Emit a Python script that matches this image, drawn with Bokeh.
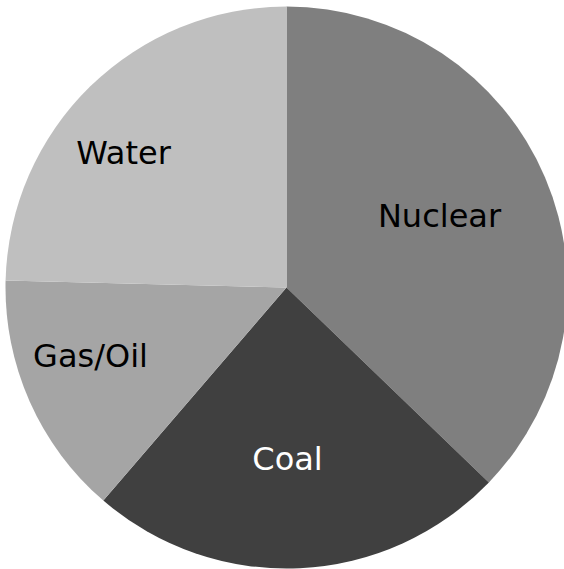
import math
from bokeh.plotting import figure
from bokeh.models import Range1d, ColumnDataSource
from bokeh.core.properties import value
from bokeh.embed import file_html
from bokeh.resources import INLINE

categories = ["Nuclear", "Coal", "Gas/Oil", "Water"]
shares = [37.2, 24.1, 14.1, 24.6]
colors = ["#7f7f7f", "#404040", "#a5a5a5", "#bfbfbf"]
text_colors = ["#000000", "#ffffff", "#000000", "#000000"]
# label anchor offsets from pie centre (pixels)
label_dx = [153, 1, -196, -163]
label_dy = [72, -171, -68, 135]

W, H = 564, 569
cx, cy = 286, 287
R = 281

total = sum(shares)
starts, ends = [], []
acc = 0.0
for s in shares:
    a0 = acc / total * 2 * math.pi
    acc += s
    a1 = acc / total * 2 * math.pi
    starts.append(math.pi / 2 - a0)
    ends.append(math.pi / 2 - a1)

src = ColumnDataSource(dict(cat=categories, start=starts, end=ends, color=colors,
                            lx=label_dx, ly=label_dy, tc=text_colors))

p = figure(width=W, height=H, output_backend="svg", toolbar_location=None,
           x_range=Range1d(-cx, W - cx), y_range=Range1d(-(H - cy), cy),
           min_border=0)
p.axis.visible = False
p.grid.visible = False
p.outline_line_color = None
p.background_fill_color = "white"
p.border_fill_color = "white"

p.wedge(x=0, y=0, radius=R, start_angle="start", end_angle="end", direction="clock",
        fill_color="color", line_color=None, source=src)
p.text(x="lx", y="ly", text="cat", text_color="tc", text_align="center",
       text_baseline="middle", text_font=value("DejaVu Sans"), text_font_size="32px",
       source=src)

open("out.html", "w").write(file_html(p, INLINE))
